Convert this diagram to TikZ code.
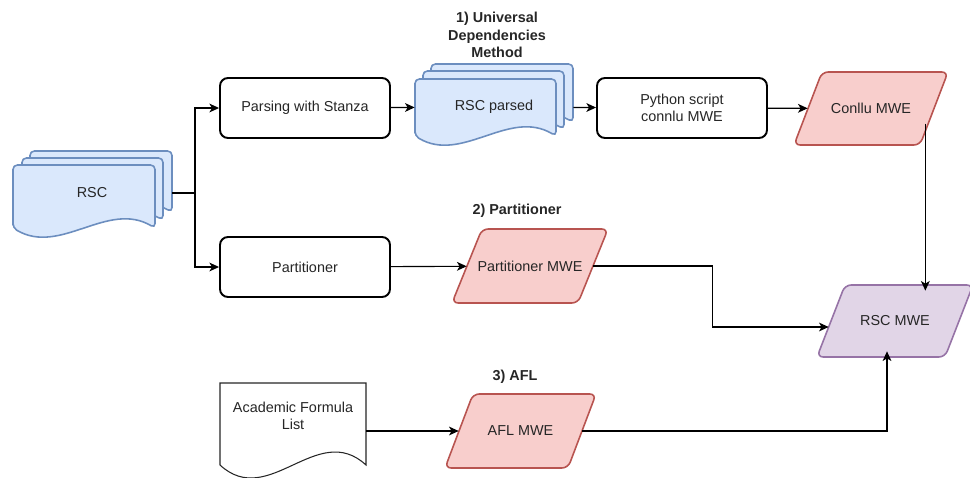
\documentclass[tikz,border=0pt]{standalone}
\usepackage{fontspec}
\setmainfont{Liberation Sans}
\usepackage{tikz}
\usetikzlibrary{arrows.meta}
\usetikzlibrary{positioning}
\usetikzlibrary{calc}
\definecolor{docfill}{HTML}{DAE8FC}
\definecolor{docdraw}{HTML}{6C8EBF}
\definecolor{mwefill}{HTML}{F8CECC}
\definecolor{mwedraw}{HTML}{B85450}
\definecolor{allfill}{HTML}{E1D5E7}
\definecolor{alldraw}{HTML}{9673A6}
\tikzstyle{line} = [draw, line width=0.65pt, -{Stealth[length=5.5pt,width=5pt,inset=1.5pt]}]
\tikzstyle{plain} = [draw, line width=0.65pt]
% one sheet with a wavy foot: style, left, top, right, foot, wave
\newcommand{\docsheet}[6][]{%
  \path[#1] (#2,#5) -- (#2,#3) -- (#4,#3) -- (#4,#5)
    .. controls ({#4-(#4-#2)/3},{#5-#6}) and ({#2+(#4-#2)/3},{#5+#6}) .. (#2,#5) -- cycle;}

\begin{document}
\begin{tikzpicture}[x=0.02cm, y=-0.02cm,
	font=\fontsize{8.2}{10}\selectfont, text=black!85,
	box/.style={draw, rounded corners=4.5pt, line width=1.1pt, fill=white,
		minimum width=3.4cm, minimum height=1.2cm, align=center},
	tag/.style={inner sep=0pt, minimum height=1.2cm, align=center},
	title/.style={font=\fontsize{8.2}{10}\selectfont\bfseries, align=center},
	sheet/.style={draw=docdraw, fill=docfill, line width=0.9pt, rounded corners=2.5pt},
	paper/.style={draw=black!85, fill=white, line width=0.6pt},
	mwe/.style={draw=mwedraw, fill=mwefill, line width=0.9pt, rounded corners=3.5pt},
	allmwe/.style={draw=alldraw, fill=allfill, line width=0.9pt, rounded corners=3.5pt}]
	\useasboundingbox (0,0) rectangle (970,477);
	%% Shapes
	% RSC corpus
	\docsheet[sheet]{30}{151}{172}{212}{25}
	\docsheet[sheet]{22}{158}{163}{220}{25}
	\docsheet[sheet]{13}{165}{155}{228}{28}
	\node [tag, minimum width=3.18cm] at (92,193) (rsc) {RSC};
	\coordinate (split) at (195,193);
	% 1) Universal Dependencies
	\node [title] at (497,35) (udtitle) {1) Universal\\Dependencies\\Method};
	\node [box] at (305,108) (stanza) {Parsing with Stanza};
	\docsheet[sheet]{431}{64}{573}{122}{25}
	\docsheet[sheet]{423}{71}{564}{129}{25}
	\docsheet[sheet]{415}{79}{556}{136}{28}
	\node [tag, minimum width=3.16cm] at (494,107) (parsed) {RSC parsed};
	\node [box] at (682,108) (python) {Python script\\connlu MWE};
	\path [mwe] (822,72) -- (948,72) -- (920,145) -- (794,145) -- cycle;
	\node [tag, minimum width=2.52cm] at (871,108.5) (conllu) {Conllu MWE};
	% 2) Partitioner
	\node [title] at (517,211) (ptitle) {2) Partitioner};
	\node [box] at (305,267) (partitioner) {Partitioner};
	\path [mwe] (482,229) -- (608,229) -- (578,303) -- (452,303) -- cycle;
	\node [tag, minimum width=2.52cm] at (530,266) (partmwe) {Partitioner MWE};
	% 3) AFL
	\node [title] at (515,377) (afltitle) {3) AFL};
	\docsheet[paper]{220}{383}{366}{465}{45}
	\node [tag, minimum width=2.92cm] at (293,416) (afl) {Academic Formula\\List};
	\path [mwe] (473,394) -- (596,394) -- (568,468) -- (445,468) -- cycle;
	\node [tag, minimum width=2.46cm] at (520.5,431) (aflmwe) {AFL MWE};
	% all MWE
	\path [allmwe] (845,285) -- (973,285) -- (945,357) -- (817,357) -- cycle;
	\node [tag, minimum width=2.56cm] at (895,321) (rscmwe) {RSC MWE};
	%% Flows
	\path [plain] (rsc.east) -- (split);
	\path [line] (split) |- (stanza.west);
	\path [line] (split) |- (partitioner.west);
	\path [line] (stanza) -- (parsed);
	\path [line] (parsed) -- (python);
	\path [line] (python) -- (conllu);
	\coordinate (cdrop) at ($(conllu.east)+(-9,15)$);
	\path [line] (cdrop) -- (cdrop |- rscmwe.north);
	\path [line] (partitioner) -- (partmwe);
	\path [line] (partmwe.east) -- ++(119,0) |- ($(rscmwe.west)+(-2,6)$);
	\path [line] (afl.east |- aflmwe.west) -- (aflmwe.west);
	\path [line] (aflmwe.east) -| ($(rscmwe.south)+(-8,0)$);
\end{tikzpicture}
\end{document}
